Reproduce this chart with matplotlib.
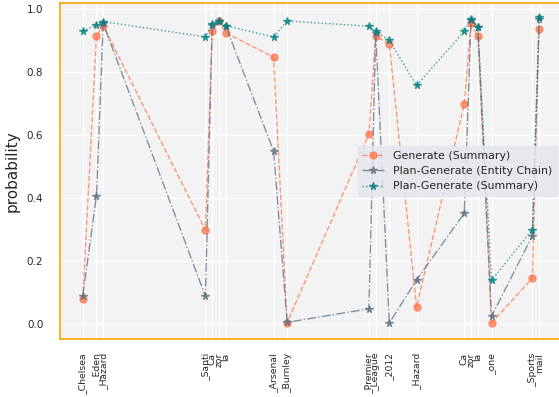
import matplotlib
matplotlib.use("Agg")
import matplotlib.pyplot as plt

# token positions and labels
positions = [0, 2, 3, 18, 19, 20, 21, 28, 30, 42, 43, 45, 49, 56, 57, 58, 60, 66, 67]
tokens = ["_Chelsea", "_Eden", "_Hazard", "_Santi", "Ca", "zor", "la", "_Arsenal", "_Burnley",
          "_Premier", "_League", "_2012", "_Hazard", "Ca", "zor", "la", "_one", "_Sports", "mail"]

gen_summary = [0.08, 0.914, 0.948, 0.298, 0.932, 0.962, 0.925, 0.848, 0.004,
               0.603, 0.914, 0.89, 0.054, 0.699, 0.957, 0.914, 0.003, 0.145, 0.938]
plan_entity = [0.09, 0.406, 0.955, 0.088, 0.950, 0.962, 0.946, 0.550, 0.005,
               0.048, 0.925, 0.003, 0.140, 0.352, 0.965, 0.944, 0.024, 0.280, 0.970]
plan_summary = [0.930, 0.951, 0.961, 0.912, 0.954, 0.964, 0.948, 0.912, 0.963,
                0.946, 0.930, 0.901, 0.758, 0.930, 0.970, 0.943, 0.138, 0.300, 0.976]

W, H = 559, 397
fig = plt.figure(figsize=(W / 100, H / 100), dpi=100)
fig.patch.set_facecolor("white")
ax = fig.add_axes([60 / W, (H - 339) / H, (562 - 60) / W, (339 - 3) / H])
ax.set_facecolor("#f3f3f3")
ax.set_axisbelow(True)
ax.grid(True, color="white", linewidth=1.0)

ax.plot(positions, gen_summary, linestyle="--", marker="o", color="#ff7043", alpha=0.7,
        linewidth=1.0, markersize=5, label="Generate (Summary)")
ax.plot(positions, plan_entity, linestyle="-.", marker="*", color="#5f6f80", alpha=0.75,
        linewidth=1.0, markersize=5.5, label="Plan-Generate (Entity Chain)")
ax.plot(positions, plan_summary, linestyle=":", marker="*", color="#008080", alpha=0.75,
        linewidth=1.0, markersize=5.5, label="Plan-Generate (Summary)")

ax.set_ylim(-0.048, 1.02)
ax.set_xticks(positions)
ax.set_xticklabels(tokens, rotation=90, fontsize=6.7, color="#262626")
ax.set_yticks([0.0, 0.2, 0.4, 0.6, 0.8, 1.0])
ax.set_yticklabels(["0.0", "0.2", "0.4", "0.6", "0.8", "1.0"], fontsize=7.5, color="#262626")
ax.tick_params(axis="x", length=0, pad=10)
ax.tick_params(axis="y", length=0, pad=12)
ax.set_ylabel("probability", fontsize=11, color="#262626", labelpad=5)

for s in ax.spines.values():
    s.set_color("orange")
    s.set_linewidth(1.2)

leg = ax.legend(loc="center right", fontsize=7.9, facecolor="#e6e6ee", edgecolor="#e6e6ee",
                framealpha=0.85, fancybox=True)
for t in leg.get_texts():
    t.set_color("#262626")

fig.savefig("out.png", dpi=100)
